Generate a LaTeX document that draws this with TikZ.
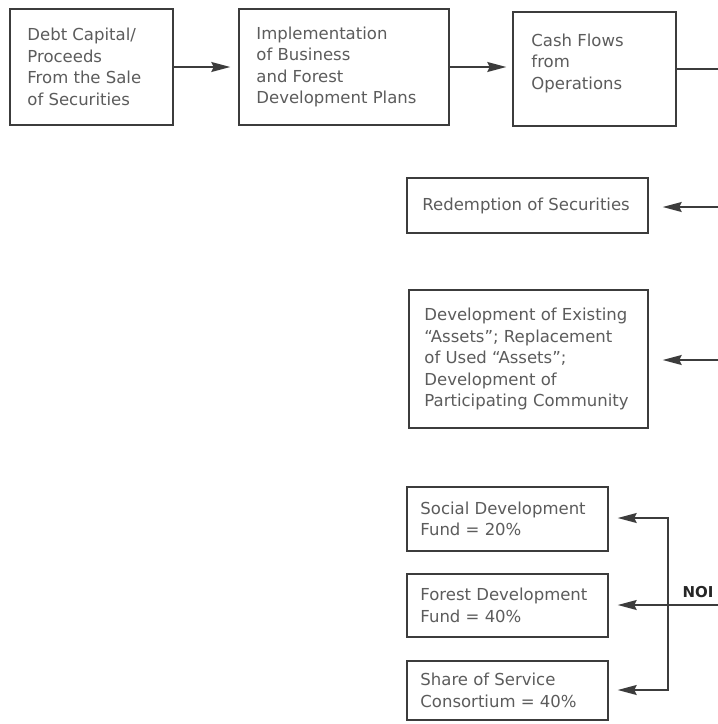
\documentclass[tikz,border=0pt]{standalone}
\usepackage{fontspec}
\setmainfont{DejaVu Sans}
\usetikzlibrary{arrows.meta}
\definecolor{txt}{HTML}{5C5C5C}
\definecolor{ln}{HTML}{3C3C3C}
\begin{document}
\begin{tikzpicture}[x=1pt,y=-1pt,
  box/.style={draw=ln,line width=1.5pt,inner sep=0pt},
  lbl/.style={text=txt,align=left,inner sep=0pt,font=\fontsize{16.5}{21.5}\selectfont},
  conn/.style={draw=ln,line width=1.5pt},
  arr/.style={conn,-{Stealth[length=19pt,width=10pt,inset=2.5pt]}},
  darr/.style={conn,{Stealth[length=19pt,width=10pt,inset=2.5pt]}-{Stealth[length=19pt,width=10pt,inset=2.5pt]}}]
\useasboundingbox (0,0) rectangle (718,724);
\fill[white] (0,0) rectangle (718,724);

\node[box,minimum width=163pt,minimum height=116pt] (debt) at (91.5,67) {};
\node[lbl,anchor=west] (debtt) at ([xshift=18pt]debt.west) {Debt Capital/\\Proceeds\\From the Sale\\of Securities};
\node[box,minimum width=210pt,minimum height=116pt] (impl) at (344,67) {};
\node[lbl,anchor=west] (implt) at ([xshift=18pt]impl.west) {Implementation\\of Business\\and Forest\\Development Plans};
\node[box,minimum width=163pt,minimum height=114pt] (cash) at (594.5,69) {};
\node[lbl,anchor=west] (casht) at ([xshift=19pt,yshift=6pt]cash.west) {Cash Flows\\from\\Operations};
\node[box,minimum width=241pt,minimum height=55pt] (red) at (527.5,205.5) {};
\node[lbl,anchor=west] (redt) at ([xshift=16pt]red.west) {Redemption of Securities};
\node[box,minimum width=239pt,minimum height=138pt] (dev) at (528.5,359) {};
\node[lbl,anchor=west] (devt) at ([xshift=16pt]dev.west) {Development of Existing\\“Assets”; Replacement\\of Used “Assets”;\\Development of\\Participating Community};
\node[box,minimum width=201pt,minimum height=64pt] (soc) at (507.5,519) {};
\node[lbl,anchor=west] (soct) at ([xshift=14pt]soc.west) {Social Development\\Fund = 20\%};
\node[box,minimum width=201pt,minimum height=63pt] (forest) at (507.5,605.5) {};
\node[lbl,anchor=west] (forestt) at ([xshift=14pt]forest.west) {Forest Development\\Fund = 40\%};
\node[box,minimum width=201pt,minimum height=59pt] (share) at (507.5,690.5) {};
\node[lbl,anchor=west] (sharet) at ([xshift=14pt]share.west) {Share of Service\\Consortium = 40\%};

\draw[arr,shorten >=8pt] (debt.east) -- (impl.west);
\draw[arr,shorten >=6pt] (impl.east) -- (impl.east -| cash.west);
\coordinate (e0) at (718,69);
\draw[conn] (cash.east) -- (e0);
\coordinate (e1) at (718,207);
\draw[arr,shorten >=14pt] (e1) -- (e1 -| red.east);
\coordinate (e2) at (718,360);
\draw[arr,shorten >=14pt] (e2) -- (e2 -| dev.east);
\coordinate (bt) at (668,518);
\coordinate (bb) at (668,690);
\draw[darr,shorten <=9pt,shorten >=9pt] (bt -| soc.east) -- (bt) -- (bb) -- (bb -| share.east);
\coordinate (e3) at (718,605);
\draw[arr,shorten >=9pt] (e3) -- (e3 -| forest.east);
\node[font=\bfseries\fontsize{15}{17}\selectfont,text=black!85,inner sep=0pt] (noi) at (698,592) {NOI};
\end{tikzpicture}
\end{document}
